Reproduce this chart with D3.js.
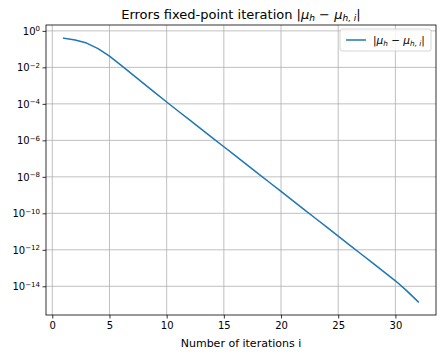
<!DOCTYPE html>
<html>
<head>
<meta charset="utf-8">
<script src="https://cdn.jsdelivr.net/npm/d3@7"></script>
<style>
  body { margin: 0; background: #fff; }
  text { font-family: "DejaVu Sans", sans-serif; fill: #000; }
</style>
</head>
<body>
<div id="chart"></div>
<script>
// data
const iterations = d3.range(1, 33);
const errors = [
  3.98e-1, 3.16e-1, 2.14e-1, 1.07e-1, 4.17e-2, 1.32e-2, 4.17e-3, 1.29e-3,
  3.98e-4, 1.26e-4, 4.07e-5, 1.32e-5, 4.27e-6, 1.38e-6, 4.47e-7, 1.45e-7,
  4.68e-8, 1.51e-8, 4.90e-9, 1.58e-9, 5.13e-10, 1.66e-10, 5.37e-11, 1.74e-11,
  5.62e-12, 1.82e-12, 5.89e-13, 1.91e-13, 6.17e-14, 2.00e-14, 5.62e-15, 1.41e-15
];
const xTicks = [0, 5, 10, 15, 20, 25, 30];
const yTickExps = [0, -2, -4, -6, -8, -10, -12, -14];

const W = 445, H = 357;
const margin = {top: 25, right: 9, bottom: 42, left: 46};
const width = W - margin.left - margin.right;
const height = H - margin.top - margin.bottom;

const svg = d3.select('#chart').append('svg')
    .attr('width', W)
    .attr('height', H);

const g = svg.append('g')
    .attr('transform', 'translate(' + margin.left + ',' + margin.top + ')');

// matplotlib style 5% margins
const xr = d3.extent(iterations);
const xPad = (xr[1] - xr[0]) * 0.05;
const xScale = d3.scaleLinear()
    .domain([xr[0] - xPad, xr[1] + xPad])
    .range([0, width]);

const lr = d3.extent(errors, d => Math.log10(d));
const lPad = (lr[1] - lr[0]) * 0.05;
const yScale = d3.scaleLog()
    .domain([Math.pow(10, lr[0] - lPad), Math.pow(10, lr[1] + lPad)])
    .range([height, 0]);

// grid
g.append('g').selectAll('line').data(xTicks).join('line')
    .attr('x1', d => xScale(d)).attr('x2', d => xScale(d))
    .attr('y1', 0).attr('y2', height)
    .attr('stroke', '#b0b0b0').attr('stroke-width', 0.8);
g.append('g').selectAll('line').data(yTickExps).join('line')
    .attr('y1', d => yScale(Math.pow(10, d))).attr('y2', d => yScale(Math.pow(10, d)))
    .attr('x1', 0).attr('x2', width)
    .attr('stroke', '#b0b0b0').attr('stroke-width', 0.8);

// line
const line = d3.line()
    .x((d, i) => xScale(iterations[i]))
    .y(d => yScale(d));

g.append('path')
    .datum(errors)
    .attr('fill', 'none')
    .attr('stroke', '#1f77b4')
    .attr('stroke-width', 1.5)
    .attr('stroke-linejoin', 'round')
    .attr('stroke-linecap', 'square')
    .attr('d', line);

// axes
const xAxis = d3.axisBottom(xScale).tickValues(xTicks).tickSize(3.5).tickPadding(3);
const xAxisGroup = g.append('g')
    .attr('transform', 'translate(0,' + height + ')')
    .call(xAxis);
xAxisGroup.select('.domain').remove();
xAxisGroup.selectAll('text').attr('font-size', '10px').attr('font-family', '"DejaVu Sans", sans-serif');
xAxisGroup.selectAll('line').attr('stroke-width', 0.8);

const yAxis = d3.axisLeft(yScale)
    .tickValues(yTickExps.map(e => Math.pow(10, e)))
    .tickSize(3.5).tickPadding(3)
    .tickFormat('');
const yAxisGroup = g.append('g').call(yAxis);
yAxisGroup.select('.domain').remove();
yAxisGroup.selectAll('line').attr('stroke-width', 0.8);
yAxisGroup.selectAll('.tick').each(function(d) {
  const e = Math.round(Math.log10(d));
  const t = d3.select(this).append('text')
      .attr('x', -6).attr('dy', '0.32em')
      .attr('text-anchor', 'end')
      .attr('font-size', '10px')
      .attr('fill', '#000');
  t.append('tspan').text('10');
  t.append('tspan')
      .attr('dy', '-0.45em')
      .attr('font-size', '7px')
      .text(e === 0 ? '0' : '\u2212' + Math.abs(e));
});

// frame
g.append('rect')
    .attr('width', width).attr('height', height)
    .attr('fill', 'none').attr('stroke', '#000').attr('stroke-width', 0.8);

// title
const title = svg.append('text')
    .attr('x', margin.left + width / 2)
    .attr('y', 18.5)
    .attr('text-anchor', 'middle')
    .attr('font-size', '13px');
title.append('tspan').text('Errors fixed-point iteration |');
title.append('tspan').attr('font-style', 'italic').text('\u03bc');
title.append('tspan').attr('font-style', 'italic').attr('font-size', '9px').attr('dy', '2').text('h');
title.append('tspan').attr('dy', '-2').text(' \u2212 ');
title.append('tspan').attr('font-style', 'italic').text('\u03bc');
title.append('tspan').attr('font-style', 'italic').attr('font-size', '9px').attr('dy', '2').text('h, i');
title.append('tspan').attr('dy', '-2').text('|');

// x label
svg.append('text')
    .attr('x', margin.left + width / 2)
    .attr('y', 347)
    .attr('text-anchor', 'middle')
    .attr('font-size', '11px')
    .text('Number of iterations i');

// legend
const lg = g.append('g').attr('transform', 'translate(' + (width - 96) + ',4)');
lg.append('rect')
    .attr('width', 91).attr('height', 22).attr('rx', 2)
    .attr('fill', '#fff').attr('fill-opacity', 0.8)
    .attr('stroke', '#cccccc').attr('stroke-width', 0.8);
lg.append('line')
    .attr('x1', 6).attr('x2', 26).attr('y1', 11).attr('y2', 11)
    .attr('stroke', '#1f77b4').attr('stroke-width', 1.5);
const lt = lg.append('text')
    .attr('x', 33).attr('y', 15)
    .attr('font-size', '10.5px');
lt.append('tspan').text('|');
lt.append('tspan').attr('font-style', 'italic').text('\u03bc');
lt.append('tspan').attr('font-style', 'italic').attr('font-size', '7.3px').attr('dy', '1.5').text('h');
lt.append('tspan').attr('dy', '-1.5').text(' \u2212 ');
lt.append('tspan').attr('font-style', 'italic').text('\u03bc');
lt.append('tspan').attr('font-style', 'italic').attr('font-size', '7.3px').attr('dy', '1.5').text('h, i');
lt.append('tspan').attr('dy', '-1.5').text('|');
</script>
</body>
</html>
